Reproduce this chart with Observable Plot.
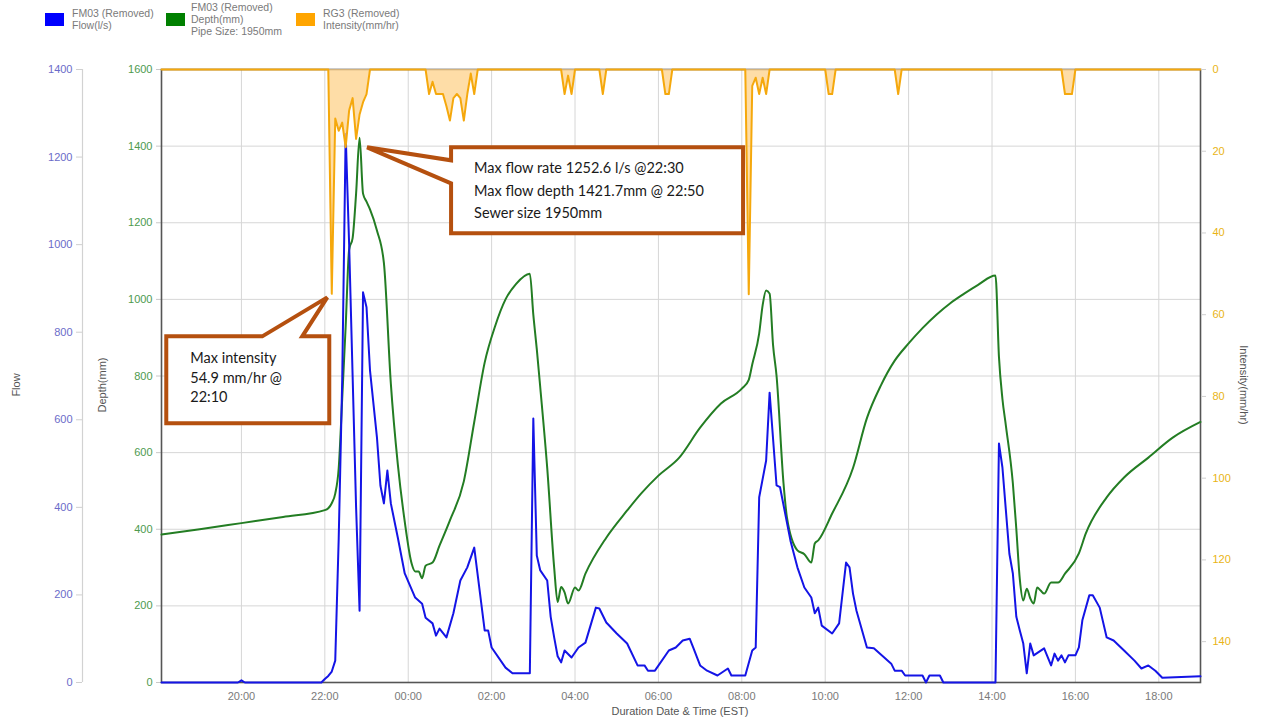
<!DOCTYPE html>
<html>
<head>
<meta charset="utf-8">
<script src="https://cdn.jsdelivr.net/npm/d3@7"></script>
<script src="https://cdn.jsdelivr.net/npm/@observablehq/plot@0.6"></script>
<style>
  html, body { margin: 0; padding: 0; background: #fff; overflow: hidden; }
  #wrap { position: relative; width: 1261px; height: 723px; font-family: "Liberation Sans", Arial, sans-serif; }
  #wrap svg { position: absolute; left: 0; top: 0; }
  .lg { position: absolute; font-size: 10.5px; line-height: 12px; color: #7a7a7a; white-space: nowrap; }
  .sw { position: absolute; width: 19px; height: 13px; }
  .axt { position: absolute; font-size: 11px; color: #555; white-space: nowrap; }
</style>
</head>
<body>
<div id="wrap"></div>
<script>
// ---------- data ----------
const timeTickLabels = ["20:00","22:00","00:00","02:00","04:00","06:00","08:00","10:00","12:00","14:00","16:00","18:00"];
const timeTickDays   = [1,1,2,2,2,2,2,2,2,2,2,2];
const depthTicks = [0,200,400,600,800,1000,1200,1400,1600];
const flowTicks = [0,200,400,600,800,1000,1200,1400];
const intensityTicks = [0,20,40,60,80,100,120,140];
const xStart = "1 18:05", xEnd = "2 19:00";

const depthTimes = ["1 18:05","1 19:00","1 20:00","1 21:00","1 22:00","1 22:05","1 22:10","1 22:15","1 22:20","1 22:25","1 22:30","1 22:35","1 22:40","1 22:45","1 22:50","1 22:55","1 23:00","1 23:05","1 23:15","1 23:25","1 23:35","1 23:45","1 23:55",
"2 00:05","2 00:10","2 00:15","2 00:20","2 00:25","2 00:35","2 00:45","2 01:00","2 01:20","2 01:35","2 01:50","2 02:05","2 02:20","2 02:35","2 02:55","2 03:00","2 03:05","2 03:10","2 03:20","2 03:30","2 03:35","2 03:40","2 03:45","2 03:50","2 04:00","2 04:05","2 04:15","2 04:45","2 05:15","2 05:35","2 06:00","2 06:30","2 07:00","2 07:30","2 08:00","2 08:10","2 08:15","2 08:25","2 08:30","2 08:35","2 08:40","2 08:45","2 08:50","2 09:00","2 09:05","2 09:20","2 09:30","2 09:40","2 09:45","2 09:50","2 10:10","2 10:40","2 11:00","2 11:20","2 11:40","2 12:00","2 12:20","2 12:40","2 13:00","2 13:20","2 13:40","2 14:05","2 14:10","2 14:15","2 14:20","2 14:30","2 14:35","2 14:40","2 14:45","2 14:50","2 14:55","2 15:00","2 15:05","2 15:10","2 15:15","2 15:25","2 15:35","2 15:45","2 16:05","2 16:15","2 16:45","2 17:10","2 17:45","2 18:20","2 19:00"];
const depthValues = [386,400,416,432,450,455,468,493,560,740,930,1130,1160,1276,1421.7,1276,1255,1235,1180,1095,780,570,420,
310,290,290,272,305,313,357,423,525,680,835,930,1000,1040,1067,960,870,770,560,300,210,249,235,206,248,240,284,378,449,493,540,587,665,728,767,790,830,911,985,1023,1015,880,800,520,430,345,335,313,363,371,441,560,690,775,840,885,925,960,990,1015,1038,1062,850,740,670,520,400,270,214,245,220,206,248,240,232,261,261,284,337,389,483,535,587,639,680];

const flowTimes = ["1 18:05","1 19:55","1 20:00","1 20:05","1 21:55","1 22:00","1 22:05","1 22:10","1 22:15","1 22:20","1 22:25","1 22:30","1 22:35","1 22:40","1 22:45","1 22:50","1 22:55","1 23:00","1 23:05","1 23:15","1 23:20","1 23:25","1 23:30","1 23:35","1 23:45","1 23:55",
"2 00:10","2 00:20","2 00:25","2 00:35","2 00:40","2 00:45","2 00:55","2 01:05","2 01:15","2 01:25","2 01:35","2 01:50","2 01:55","2 02:00","2 02:20","2 02:30","2 02:55","2 03:00","2 03:05","2 03:10","2 03:20","2 03:25","2 03:30","2 03:35","2 03:40","2 03:45","2 03:55","2 04:05","2 04:15","2 04:30","2 04:35","2 04:45","2 05:00","2 05:15","2 05:30","2 05:40","2 05:45","2 05:55","2 06:15","2 06:25","2 06:35","2 06:45","2 06:50","2 07:00","2 07:10","2 07:25","2 07:40","2 07:45","2 08:05","2 08:15","2 08:20","2 08:25","2 08:35","2 08:40","2 08:50","2 08:55","2 09:10","2 09:20","2 09:30","2 09:40","2 09:45","2 09:50","2 09:55","2 10:10","2 10:20","2 10:30","2 10:35","2 10:40","2 10:45","2 11:00","2 11:10","2 11:35","2 11:40","2 11:50","2 11:55","2 12:20","2 12:25","2 12:30","2 12:45","2 12:50","2 14:05","2 14:10","2 14:15","2 14:25","2 14:30","2 14:35","2 14:40","2 14:45","2 14:50","2 14:55","2 15:00","2 15:15","2 15:25","2 15:30","2 15:35","2 15:40","2 15:45","2 15:50","2 16:00","2 16:05","2 16:10","2 16:20","2 16:25","2 16:35","2 16:45","2 16:55","2 17:10","2 17:25","2 17:35","2 17:45","2 17:55","2 18:05","2 19:00"];
const flowValues = [0,0,5,0,0,8,15,25,50,330,690,1252.6,1000,700,400,164,891,857,713,560,450,409,484,409,331,249,
194,180,148,135,107,123,103,158,233,263,308,119,119,80,34,21,21,603,290,256,233,150,103,60,46,73,57,80,91,171,169,137,112,89,39,39,27,27,73,80,96,100,80,39,27,16,32,16,16,73,80,423,507,662,450,446,324,263,217,194,158,171,130,112,135,274,263,203,164,80,78,43,27,27,16,16,0,16,16,0,0,546,491,294,249,150,119,89,21,89,62,78,39,66,50,62,46,62,62,80,142,199,199,171,103,96,73,50,32,39,27,11,14];

const intensityTimes = ["1 18:05","1 22:05","1 22:10","1 22:15","1 22:20","1 22:25","1 22:30","1 22:35","1 22:40","1 22:45","1 22:50","1 22:55","1 23:00","1 23:05",
"2 00:25","2 00:30","2 00:35","2 00:40","2 00:45","2 00:50","2 00:55","2 01:00","2 01:05","2 01:10","2 01:15","2 01:20","2 01:25","2 01:30","2 01:35","2 01:40",
"2 03:40","2 03:45","2 03:50","2 03:55","2 04:00","2 04:35","2 04:40","2 04:45","2 06:05","2 06:10","2 06:15","2 06:20",
"2 08:05","2 08:10","2 08:15","2 08:20","2 08:25","2 08:30","2 08:35","2 08:40","2 10:00","2 10:05","2 10:10","2 10:15","2 11:40","2 11:45","2 11:50","2 15:40","2 15:45","2 15:50","2 15:55","2 16:00","2 19:00"];
const intensityValues = [0,0,54.9,12,15,13,19,10,7,17,11,8,6,0,
0,6,3,6,6,6,9,12.5,7,6,7,12.5,6,1,6,0,
0,6,1.5,6,0,0,6,0,0,6,6,0,
0,55,4,2,6,2,6,0,0,6,6,0,0,6,0,0,6,6,6,0,0];

const legendItems = [
  {color: "#0000ff", lines: ["FM03 (Removed)", "Flow(l/s)"]},
  {color: "#008000", lines: ["FM03 (Removed)", "Depth(mm)", "Pipe Size: 1950mm"]},
  {color: "#ffa500", lines: ["RG3 (Removed)", "Intensity(mm/hr)"]}
];
const callout1Lines = ["Max intensity", "54.9 mm/hr @", "22:10"];
const callout2Lines = ["Max flow rate 1252.6 l/s @22:30", "Max flow depth 1421.7mm @ 22:50", "Sewer size 1950mm"];
const peakIntensity = {t: "1 22:10", v: 54.9};
const peakDepth = {t: "1 22:50", v: 1421.7};

// ---------- helpers ----------
function parseT(s) {
  const [d, hm] = s.split(" ");
  const [h, m] = hm.split(":").map(Number);
  return new Date(Date.UTC(2021, 6, +d, h, m));
}
const zip = (ts, vs) => ts.map((t, i) => ({t: parseT(t), v: vs[i]}));
const depthData = zip(depthTimes, depthValues);
const flowData = zip(flowTimes, flowValues);
const intensityData = zip(intensityTimes, intensityValues);
const xTicks = timeTickLabels.map((l, i) => parseT(timeTickDays[i] + " " + l));
const xDomain = [parseT(xStart), parseT(xEnd)];
const plain = d => String(d);

const W = 1261, H = 723;
const dims = {width: W, height: H, marginTop: 69, marginRight: 61, marginBottom: 41, marginLeft: 161,
  style: {fontFamily: "'Liberation Sans', Arial, sans-serif", fontSize: "11px", background: "transparent", overflow: "visible"}};

// base: grid, frame, x axis, depth axis, depth line
const base = Plot.plot({
  ...dims,
  x: {type: "utc", domain: xDomain},
  y: {domain: [0, 1600]},
  marks: [
    Plot.gridX(xTicks, {stroke: "#d6d6d6", strokeOpacity: 1}),
    Plot.gridY(depthTicks, {stroke: "#d6d6d6", strokeOpacity: 1}),
    Plot.axisX(xTicks, {tickFormat: d => timeTickLabels[xTicks.findIndex(x => +x === +d)], tickSize: 0, tickPadding: 10, fill: "#7a7a7a", label: null}),
    Plot.axisY(depthTicks, {anchor: "left", tickSize: 5, tickPadding: 4, tickFormat: plain, stroke: "#c8c8c8", fill: "#4e9a4e", label: null}),
    Plot.frame({stroke: "#555", strokeWidth: 1.6}),
    Plot.lineY(depthData, {x: "t", y: "v", stroke: "#237d23", strokeWidth: 2, curve: "monotone-x"})
  ]
});

// flow
const flowPlot = Plot.plot({
  ...dims,
  x: {type: "utc", domain: xDomain, axis: null},
  y: {domain: [0, 1400]},
  marks: [
    Plot.ruleX([xDomain[0]], {dx: -79, stroke: "#d2d2d2", strokeWidth: 1.2}),
    Plot.axisY(flowTicks, {anchor: "left", dx: -79, tickSize: 6, tickPadding: 4, tickFormat: plain, stroke: "#cfcfcf", fill: "#6b6bc9", label: null}),
    Plot.lineY(flowData, {x: "t", y: "v", stroke: "#1414e6", strokeWidth: 2})
  ]
});

// intensity (reversed)
const intPlot = Plot.plot({
  ...dims,
  x: {type: "utc", domain: xDomain, axis: null},
  y: {domain: [0, 150], reverse: true},
  marks: [
    Plot.areaY(intensityData, {x: "t", y1: 0, y2: "v", fill: "#fdd18a", fillOpacity: 0.75}),
    Plot.lineY(intensityData, {x: "t", y: "v", stroke: "#f5a80c", strokeWidth: 2}),
    Plot.axisY(intensityTicks, {anchor: "right", tickSize: 5, tickPadding: 7, tickFormat: plain, stroke: "#cfcfcf", fill: "#e9b416", label: null})
  ]
});

const wrap = document.getElementById("wrap");
wrap.append(base, flowPlot, intPlot);

// ---------- callouts anchored on data ----------
const g = d3.select(intPlot).append("g")
  .attr("font-family", "Lato, 'Open Sans', sans-serif").attr("font-size", 14.5)
  .attr("fill", "#1a1a1a").attr("text-anchor", "start");
const CALL = "#b5500f";
{
  const tx = intPlot.scale("x").apply(parseT(peakIntensity.t));
  const ty = intPlot.scale("y").apply(peakIntensity.v);
  const L = tx - 165, R = tx - 2, T = ty + 43, B = ty + 130;
  const p = [[L, T], [tx - 69, T], [tx - 4, ty + 4], [tx - 29, T], [R, T], [R, B], [L, B]];
  g.append("path").attr("d", "M" + p.join("L") + "Z").attr("fill", "#fff").attr("stroke", CALL).attr("stroke-width", 4).attr("stroke-linejoin", "miter");
  callout1Lines.forEach((s, i) => g.append("text").attr("x", L + 24).attr("y", T + 27 + i * 19.5).attr("text-anchor", "start").text(s));
}
{
  const tx = base.scale("x").apply(parseT(peakDepth.t));
  const ty = base.scale("y").apply(peakDepth.v);
  const L = tx + 92, R = tx + 384, T = ty + 10, B = ty + 96;
  const p = [[L, T], [R, T], [R, B], [L, B], [L, ty + 46], [tx + 8, ty + 10], [L, ty + 23]];
  g.append("path").attr("d", "M" + p.join("L") + "Z").attr("fill", "#fff").attr("stroke", CALL).attr("stroke-width", 4).attr("stroke-linejoin", "miter");
  callout2Lines.forEach((s, i) => g.append("text").attr("x", L + 23).attr("y", T + 26 + i * 22.5).attr("text-anchor", "start").text(s));
}

// ---------- legend ----------
const legendPos = [{sx: 45, tx: 72, ty: 7}, {sx: 166, tx: 191, ty: 1}, {sx: 296, tx: 323, ty: 7}];
legendItems.forEach((it, i) => {
  const sw = document.createElement("div");
  sw.className = "sw";
  sw.style.left = legendPos[i].sx + "px"; sw.style.top = "13px"; sw.style.background = it.color;
  wrap.append(sw);
  const tx = document.createElement("div");
  tx.className = "lg";
  tx.style.left = legendPos[i].tx + "px"; tx.style.top = legendPos[i].ty + "px";
  tx.innerHTML = it.lines.join("<br>");
  wrap.append(tx);
});

// ---------- axis titles ----------
function axTitle(text, cx, cy, rot) {
  const d = document.createElement("div");
  d.className = "axt";
  d.textContent = text;
  wrap.append(d);
  const w = d.offsetWidth, h = d.offsetHeight;
  d.style.left = (cx - w / 2) + "px";
  d.style.top = (cy - h / 2) + "px";
  if (rot) d.style.transform = "rotate(" + rot + "deg)";
}
axTitle("Flow", 15, 385, -90);
axTitle("Depth(mm)", 101, 385, -90);
axTitle("Intensity(mm/hr)", 1243, 385, 90);
axTitle("Duration Date & Time (EST)", 680, 711, 0);
</script>
</body>
</html>
